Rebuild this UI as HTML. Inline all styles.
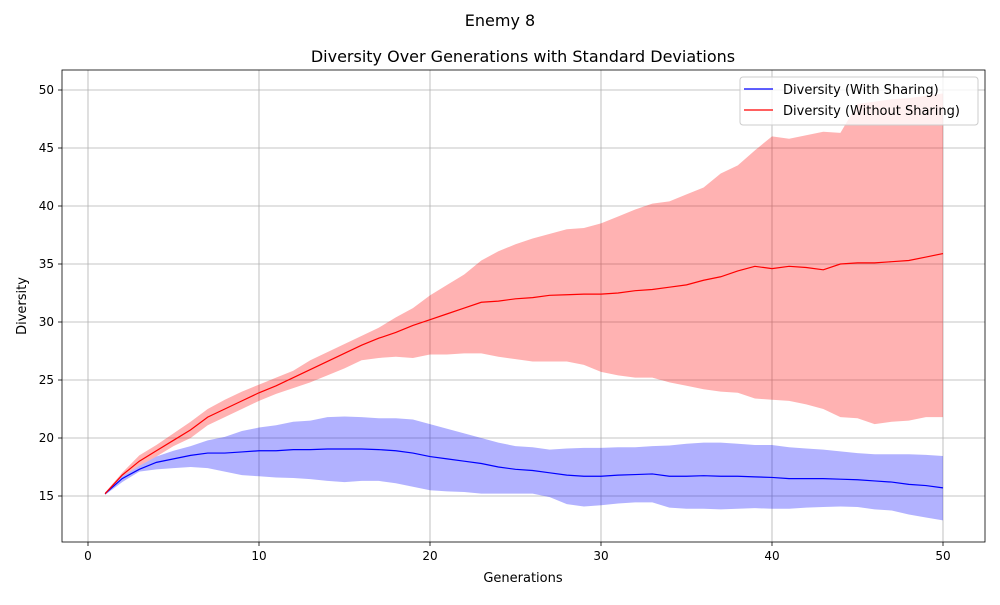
<!DOCTYPE html>
<html><head><meta charset="utf-8"><style>
body{margin:0;background:#fff;font-family:"Liberation Sans","DejaVu Sans",sans-serif}
svg text{font-family:"DejaVu Sans","Liberation Sans",sans-serif;fill:#000}
</style></head><body>
<svg id="c" width="1000" height="600" viewBox="0 0 1000 600"></svg>
<script>
const generations = Array.from({length:50},(_,i)=>i+1);
const redMean=[15.2,16.8,18.0,18.9,19.8,20.7,21.8,22.5,23.2,23.9,24.5,25.2,25.9,26.6,27.3,28.0,28.6,29.1,29.7,30.2,30.7,31.2,31.7,31.8,32.0,32.1,32.3,32.35,32.4,32.4,32.5,32.7,32.8,33.0,33.2,33.6,33.9,34.4,34.8,34.6,34.8,34.7,34.5,35.0,35.1,35.1,35.2,35.3,35.6,35.9];
const redUpper=[15.3,17.0,18.5,19.4,20.4,21.4,22.5,23.3,24.0,24.6,25.2,25.8,26.7,27.4,28.1,28.8,29.5,30.4,31.2,32.3,33.2,34.1,35.3,36.1,36.7,37.2,37.6,38.0,38.1,38.5,39.1,39.7,40.2,40.4,41.0,41.6,42.8,43.5,44.8,46.0,45.8,46.1,46.4,46.3,48.8,49.0,49.2,49.3,49.5,49.7];
const redLower=[15.1,16.7,17.6,18.4,19.3,20.0,21.1,21.8,22.5,23.2,23.8,24.3,24.8,25.4,26.0,26.7,26.9,27.0,26.9,27.2,27.2,27.3,27.3,27.0,26.8,26.6,26.6,26.6,26.3,25.7,25.4,25.2,25.2,24.8,24.5,24.2,24.0,23.9,23.4,23.3,23.2,22.9,22.5,21.8,21.7,21.2,21.4,21.5,21.8,21.8];
const blueMean=[15.2,16.5,17.3,17.9,18.2,18.5,18.7,18.7,18.8,18.9,18.9,19.0,19.0,19.05,19.05,19.05,19.0,18.9,18.7,18.4,18.2,18.0,17.8,17.5,17.3,17.2,17.0,16.8,16.7,16.7,16.8,16.85,16.9,16.7,16.7,16.75,16.7,16.7,16.65,16.6,16.5,16.5,16.5,16.45,16.4,16.3,16.2,16.0,15.9,15.7];
const blueUpper=[15.3,16.7,17.6,18.4,18.9,19.3,19.8,20.1,20.6,20.9,21.1,21.4,21.5,21.8,21.85,21.8,21.7,21.7,21.6,21.2,20.8,20.4,20.0,19.6,19.3,19.2,19.0,19.1,19.15,19.15,19.2,19.2,19.3,19.35,19.5,19.6,19.6,19.5,19.4,19.4,19.2,19.1,19.0,18.85,18.7,18.6,18.6,18.6,18.55,18.45];
const blueLower=[15.1,16.2,17.1,17.3,17.4,17.5,17.4,17.1,16.8,16.7,16.6,16.55,16.45,16.3,16.2,16.3,16.3,16.1,15.8,15.5,15.4,15.35,15.2,15.2,15.2,15.2,14.9,14.3,14.1,14.2,14.35,14.45,14.45,14.0,13.9,13.9,13.85,13.9,13.95,13.9,13.9,14.0,14.05,14.1,14.05,13.85,13.75,13.4,13.15,12.9];
const xTicks=[0,10,20,30,40,50];
const yTicks=[15,20,25,30,35,40,45,50];

const L=62,R=985,T=70,B=542;
const X=v=>88+(v-0)*(943-88)/50;
const Y=v=>496-(v-15)*(496-90)/35;
const svg=document.getElementById('c');
const NS='http://www.w3.org/2000/svg';
function mk(tag,attrs,name,txt){const e=document.createElementNS(NS,tag);for(const k in attrs)e.setAttribute(k,attrs[k]);


if(txt!==undefined)e.textContent=txt;svg.appendChild(e);return e;}
mk('text',{x:500,y:26,'text-anchor':'middle','font-size':16},'figure-title','Enemy 8');
mk('text',{x:523,y:62,'text-anchor':'middle','font-size':16},'chart-title','Diversity Over Generations with Standard Deviations');
// grid
xTicks.forEach(t=>{mk('line',{x1:X(t),x2:X(t),y1:T,y2:B,stroke:'#b0b0b0','stroke-width':0.8},'x-gridline');
mk('line',{x1:X(t),x2:X(t),y1:B,y2:B+4,stroke:'#000','stroke-width':0.8},'x-tick');
mk('text',{x:X(t),y:B+18,'text-anchor':'middle','font-size':12},'x-tick-label',String(t));});
yTicks.forEach(t=>{mk('line',{x1:L,x2:R,y1:Y(t),y2:Y(t),stroke:'#b0b0b0','stroke-width':0.8},'y-gridline');
mk('line',{x1:L-4,x2:L,y1:Y(t),y2:Y(t),stroke:'#000','stroke-width':0.8},'y-tick');
mk('text',{x:L-8,y:Y(t)+4,'text-anchor':'end','font-size':12},'y-tick-label',String(t));});
function band(up,lo,fill,name){let d='M'+generations.map((g,i)=>X(g)+','+Y(up[i])).join('L');
for(let i=generations.length-1;i>=0;i--)d+='L'+X(generations[i])+','+Y(lo[i]);
mk('path',{d:d+'Z',fill:fill,'fill-opacity':0.3,stroke:'none'},name);}
function line(m,c,name){mk('polyline',{points:generations.map((g,i)=>X(g)+','+Y(m[i])).join(' '),fill:'none',stroke:c,'stroke-width':1.2},name);}
band(blueUpper,blueLower,'#0000ff','band-with-sharing');
band(redUpper,redLower,'#ff0000','band-without-sharing');
line(blueMean,'#0000ff','line-with-sharing');
line(redMean,'#ff0000','line-without-sharing');
mk('rect',{x:L,y:T,width:R-L,height:B-T,fill:'none',stroke:'#000','stroke-width':0.8},'plot-frame');
mk('text',{x:523,y:582,'text-anchor':'middle','font-size':13},'x-axis-title','Generations');
mk('text',{x:26,y:306,'text-anchor':'middle','font-size':13,transform:'rotate(-90 26 306)'},'y-axis-title','Diversity');
// legend
mk('rect',{x:740,y:77,width:238,height:48,rx:3,fill:'#fff','fill-opacity':0.8,stroke:'#ccc'},'legend-box');
mk('line',{x1:744,x2:773,y1:89,y2:89,stroke:'#0000ff','stroke-width':1.2},'legend-swatch-with');
mk('text',{x:783,y:94,'font-size':13},'legend-entry-with','Diversity (With Sharing)');
mk('line',{x1:744,x2:773,y1:110,y2:110,stroke:'#ff0000','stroke-width':1.2},'legend-swatch-without');
mk('text',{x:783,y:115,'font-size':13},'legend-entry-without','Diversity (Without Sharing)');
</script>
</body></html>
